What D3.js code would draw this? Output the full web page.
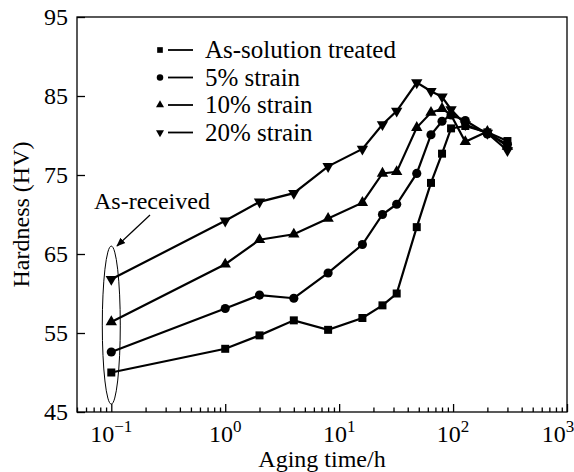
<!DOCTYPE html>
<html>
<head>
<meta charset="utf-8">
<script src="https://cdn.jsdelivr.net/npm/d3@7"></script>
<style>
  body { margin: 0; background: #fff; }
  svg text { font-family: 'Liberation Serif', 'DejaVu Serif', serif !important; }
</style>
</head>
<body>
<div id="chart"></div>
<script>
// aging time (h) and hardness (HV)
const times = [0.1, 1, 2, 4, 8, 16, 24, 32, 48, 64, 80, 96, 128, 200, 300];
const solutionTreated = [50.0, 53.0, 54.7, 56.6, 55.4, 56.9, 58.5, 60.0, 68.4, 74.0, 77.7, 80.9, 81.2, 80.4, 79.3];
const strain5 = [52.6, 58.1, 59.8, 59.4, 62.6, 66.2, 70.0, 71.3, 75.2, 80.1, 81.8, 82.6, 81.9, 80.2, 78.9];
const strain10 = [56.4, 63.7, 66.8, 67.5, 69.5, 71.5, 75.2, 75.4, 81.0, 82.9, 83.4, 82.6, 79.2, 80.5, 78.6];
const strain20 = [61.8, 69.2, 71.6, 72.7, 76.1, 78.3, 81.4, 83.1, 86.7, 85.6, 84.9, 83.3, 81.4, 80.3, 78.1];

const seriesNames = ['As-solution treated', '5% strain', '10% strain', '20% strain'];
const seriesValues = [solutionTreated, strain5, strain10, strain20];
const yTicks = [45, 55, 65, 75, 85, 95];
const xExponents = [-1, 0, 1, 2, 3];

const width = 574, height = 472;
const margin = { left: 77, top: 17, right: 7, bottom: 60 };

const svg = d3.select('#chart').append('svg')
  .attr('width', width)
  .attr('height', height)
  .style('font-family', "'Liberation Serif', 'DejaVu Serif', serif");

const x = d3.scaleLog().domain([0.05, 1000]).range([margin.left, width - margin.right]);
const y = d3.scaleLinear().domain([45, 95]).range([height - margin.bottom, margin.top]);

// symbols
const symbols = [d3.symbolSquare, d3.symbolCircle, d3.symbolTriangle, d3.symbolTriangle];
const sizes = [64, 66, 56, 56];
const rotations = [0, 0, 0, 180];

// frame
svg.append('rect')
  .attr('x', margin.left).attr('y', margin.top)
  .attr('width', width - margin.right - margin.left)
  .attr('height', height - margin.bottom - margin.top)
  .attr('fill', 'none').attr('stroke', '#000').attr('stroke-width', 1.3);

// x axis: major + minor ticks pointing inward
const majors = xExponents.map(e => Math.pow(10, e));
const minors = [];
for (let e = -2; e < 3; e++) {
  for (let m = 2; m <= 9; m++) {
    const v = m * Math.pow(10, e);
    if (v >= 0.05 && v <= 1000) minors.push(v);
  }
}
const xAxisG = svg.append('g').attr('transform', `translate(0,${y(45)})`);
xAxisG.call(d3.axisBottom(x).tickValues(majors).tickSize(-8).tickFormat(''));
xAxisG.append('g').call(d3.axisBottom(x).tickValues(minors).tickSize(-4.5).tickFormat(''));
xAxisG.selectAll('.domain').remove();
xAxisG.selectAll('line').attr('stroke', '#000').attr('stroke-width', 1.3);

const xl = svg.append('g').selectAll('text').data(xExponents).join('text')
  .attr('x', d => Math.min(x(Math.pow(10, d)), 558))
  .attr('y', 442)
  .attr('text-anchor', 'middle')
  .attr('fill', '#000')
  .attr('font-size', 24);
xl.append('tspan').text('10');
xl.append('tspan').attr('dy', -10).attr('font-size', 17)
  .text(d => d < 0 ? '\u2212' + Math.abs(d) : String(d));

// y axis
const yAxisG = svg.append('g').attr('transform', `translate(${x(0.05)},0)`);
yAxisG.call(d3.axisLeft(y).tickValues(yTicks).tickSize(-8).tickFormat(''));
yAxisG.selectAll('.domain').remove();
yAxisG.selectAll('line').attr('stroke', '#000').attr('stroke-width', 1.3);

svg.append('g').selectAll('text').data(yTicks).join('text')
  .attr('x', 68)
  .attr('y', d => y(d))
  .attr('dy', '0.35em')
  .attr('text-anchor', 'end')
  .attr('fill', '#000')
  .attr('font-size', 24)
  .text(d => d);

// axis titles
svg.append('text')
  .attr('x', (margin.left + width - margin.right) / 2)
  .attr('y', 467)
  .attr('text-anchor', 'middle')
  .attr('fill', '#000')
  .attr('font-size', 24)
  .text('Aging time/h');

svg.append('text')
  .attr('transform', `translate(29,${(margin.top + height - margin.bottom) / 2}) rotate(-90)`)
  .attr('text-anchor', 'middle')
  .attr('fill', '#000')
  .attr('font-size', 24)
  .text('Hardness (HV)');

// ellipse around as-received points
svg.append('ellipse')
  .attr('cx', x(0.1))
  .attr('cy', y(56))
  .attr('rx', 9)
  .attr('ry', (y(46) - y(66)) / 2)
  .attr('fill', 'none').attr('stroke', '#000').attr('stroke-width', 1);

svg.append('defs').append('marker')
  .attr('id', 'arrow')
  .attr('viewBox', '0 0 10 10')
  .attr('refX', 9).attr('refY', 5)
  .attr('markerWidth', 9).attr('markerHeight', 9)
  .attr('markerUnits', 'userSpaceOnUse')
  .attr('orient', 'auto')
  .append('path').attr('d', 'M0,1 L10,5 L0,9 Z').attr('fill', '#000');

svg.append('line')
  .attr('x1', 150).attr('y1', 215)
  .attr('x2', 117).attr('y2', 246)
  .attr('stroke', '#000').attr('stroke-width', 1.2)
  .attr('marker-end', 'url(#arrow)');

svg.append('text')
  .attr('x', 94).attr('y', 209)
  .attr('fill', '#000')
  .attr('font-size', 24)
  .text('As-received');

// series lines and markers
const line = d3.line().x(d => x(d[0])).y(d => y(d[1]));

seriesValues.forEach((vals, i) => {
  const pts = times.map((t, j) => [t, vals[j]]);
  svg.append('path')
    .datum(pts)
    .attr('d', line)
    .attr('fill', 'none')
    .attr('stroke', '#000')
    .attr('stroke-width', 2.2);
  svg.append('g').selectAll('path').data(pts).join('path')
    .attr('d', d3.symbol().type(symbols[i]).size(sizes[i]))
    .attr('transform', d => `translate(${x(d[0])},${y(d[1])}) rotate(${rotations[i]})`)
    .attr('fill', '#000');
});

// legend
const legend = svg.append('g');
seriesNames.forEach((name, i) => {
  const cy = 50 + i * 27.5;
  legend.append('path')
    .attr('d', d3.symbol().type(symbols[i]).size(sizes[i] * 0.5))
    .attr('transform', `translate(160,${cy}) rotate(${rotations[i]})`)
    .attr('fill', '#000');
  legend.append('line')
    .attr('x1', 168).attr('x2', 193)
    .attr('y1', cy).attr('y2', cy)
    .attr('stroke', '#000').attr('stroke-width', 1.8);
  legend.append('text')
    .attr('x', 205).attr('y', cy + 8)
    .attr('fill', '#000')
    .attr('font-size', 25)
    .text(name);
});
</script>
</body>
</html>
